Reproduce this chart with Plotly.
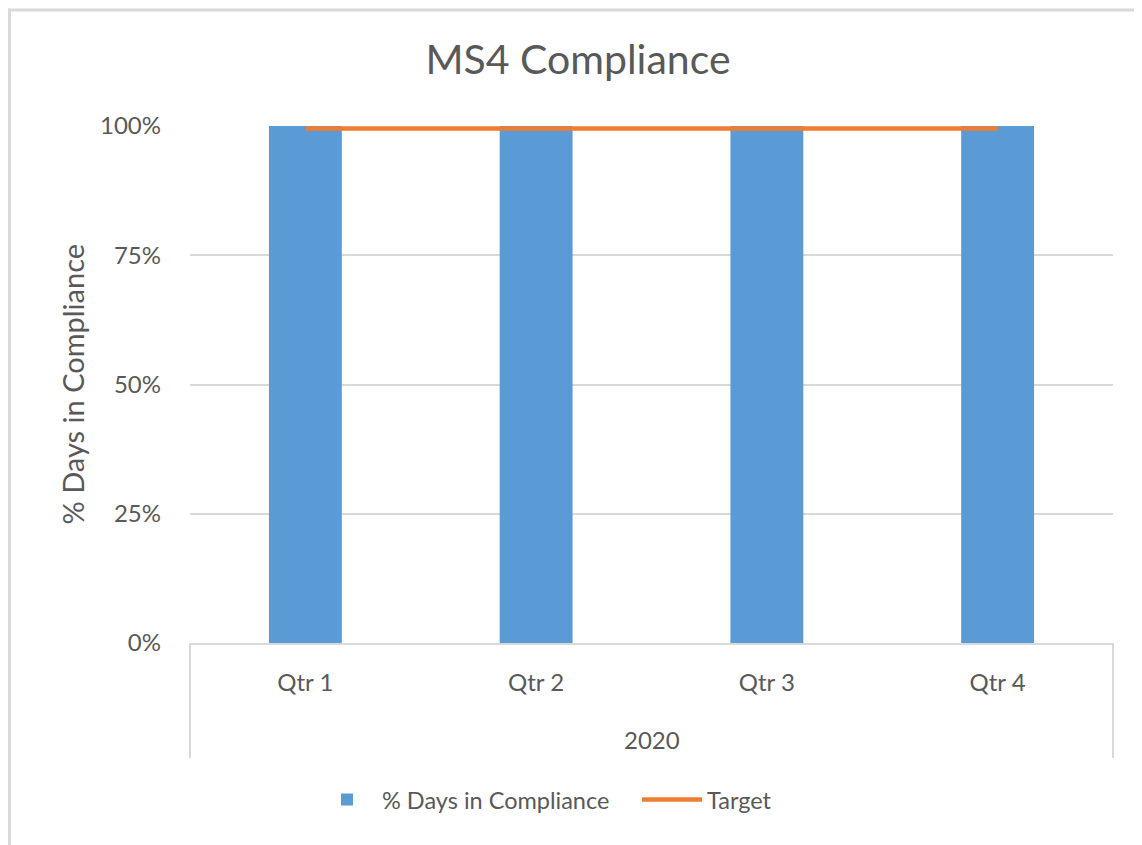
import plotly.graph_objects as go

year = "2020"
quarters = ["Qtr 1", "Qtr 2", "Qtr 3", "Qtr 4"]
pct_days = [1.0, 1.0, 1.0, 1.0]
target = [0.995, 0.995, 0.995, 0.995]

FONT = "Lato"
GRAY = "#595959"
GRID = "#D9D9D9"

# plot area in reference pixel coords
PL, PR, PT, PB = 190, 1113, 125.5, 643
PW, PH = PR - PL, PB - PT
OFF = 8  # page body offset


def px(x):
    return (x - PL) / PW


def py(y):
    return (PB - y) / PH


fig = go.Figure()
fig.add_trace(go.Bar(
    x=quarters, y=pct_days, name="% Days in Compliance",
    marker=dict(color="#5B9BD5", line=dict(width=0)), width=0.316,
))
fig.add_trace(go.Scatter(
    x=quarters, y=target, name="Target", mode="lines",
    line=dict(color="#ED7D31", width=4.5),
))

fig.update_layout(
    width=1142, height=845,
    margin=dict(l=PL - OFF, r=1142 - PR + OFF, t=PT - OFF, b=845 - PB + OFF, autoexpand=False),
    paper_bgcolor="white", plot_bgcolor="white",
    font=dict(family=FONT, color=GRAY, size=24),
    title=dict(text="MS4 Compliance", x=(578 - OFF) / 1142, xanchor="center",
               y=1 - (60 - OFF) / 845, yanchor="middle",
               font=dict(family=FONT, size=41, color=GRAY)),
    showlegend=True,
    legend=dict(orientation="h", x=px(312), xanchor="left", y=py(800), yanchor="middle",
                font=dict(family=FONT, size=23.5, color=GRAY), itemwidth=60, entrywidth=250,
                traceorder="normal", tracegroupgap=0),
    xaxis=dict(
        type="category", range=[-0.5, 3.5], showgrid=False, showline=True, linecolor=GRID,
        linewidth=2, ticks="", ticklabelstandoff=17,
        tickfont=dict(family=FONT, size=24, color=GRAY), automargin=False,
    ),
    yaxis=dict(
        range=[0, 1], dtick=0.25, tickformat=".0%", showgrid=True, gridcolor=GRID, gridwidth=1.5,
        zeroline=False, showline=False, ticks="", ticklabelstandoff=28,
        tickfont=dict(family=FONT, size=24, color=GRAY), automargin=False,
    ),
    annotations=[
        dict(text="% Days in Compliance", textangle=-90, xref="paper", yref="paper",
             x=px(72), y=0.5, xanchor="center", yanchor="middle", showarrow=False,
             font=dict(family=FONT, size=29, color=GRAY)),
        dict(text=year, xref="paper", yref="paper", x=0.5, y=py(740),
             xanchor="center", yanchor="middle", showarrow=False,
             font=dict(family=FONT, size=24, color=GRAY)),
    ],
    shapes=[
        # category group dividers
        dict(type="line", xref="paper", yref="paper", x0=0, x1=0, y0=0, y1=py(758),
             line=dict(color=GRID, width=2)),
        dict(type="line", xref="paper", yref="paper", x0=1, x1=1, y0=0, y1=py(758),
             line=dict(color=GRID, width=2)),
        # chart border (top and left visible)
        dict(type="line", xref="paper", yref="paper", x0=px(9.5), x1=px(9.5),
             y0=py(8), y1=py(845 + OFF), line=dict(color=GRID, width=3)),
        dict(type="line", xref="paper", yref="paper", x0=px(8), x1=px(1142 + OFF),
             y0=py(9.5), y1=py(9.5), line=dict(color=GRID, width=3)),
    ],
)

fig.write_html("out.html")
